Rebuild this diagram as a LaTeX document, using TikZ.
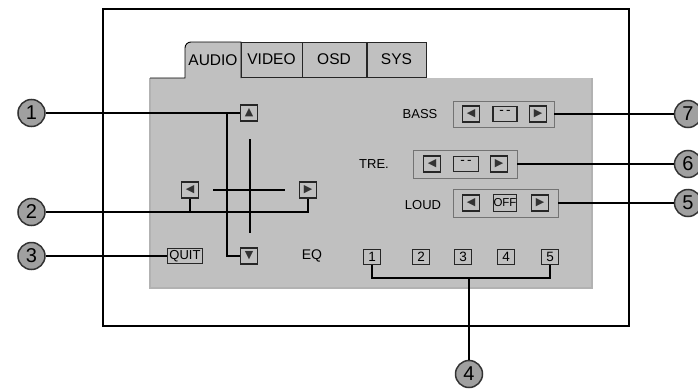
\documentclass[tikz,border=0pt]{standalone}
\usepackage{fontspec}
\setmainfont{Liberation Sans}
\newfontfamily\symfont{DejaVu Sans}
\usetikzlibrary{positioning}

\definecolor{panel}{RGB}{192,192,192}
\definecolor{badge}{RGB}{160,160,160}

\tikzset{
  btn/.style={draw=black!85, line width=1.2pt, fill=panel, inner sep=0pt,
    minimum width=17pt, minimum height=16pt, font=\fontsize{13.5}{13.5}\selectfont},
  arr/.style={btn, text=black!80, font=\symfont\fontsize{11}{11}\selectfont},
  grp/.style={draw=black!55, line width=0.9pt, inner sep=0pt},
  tabbox/.style={draw=black!85, line width=0.9pt, fill=panel, inner sep=0pt,
    minimum height=35pt, font=\fontsize{15.5}{15.5}\selectfont},
  lbl/.style={inner sep=0pt, font=\fontsize{13}{13}\selectfont},
  callout/.style={circle, draw=black!80, line width=1.5pt, fill=badge,
    minimum size=27pt, inner sep=0pt, font=\fontsize{20}{20}\selectfont},
  wire/.style={line width=1.1pt}
}

\begin{document}
\begin{tikzpicture}[x=1pt, y=-1pt]
\useasboundingbox (0,0) rectangle (698,388);

% screen frame and panel
\draw[line width=1.1pt] (103,9) rectangle (629,326);
\fill[panel] (150,78) rectangle (592,288);
\draw[gray!60, line width=1.2pt] (150,78) -- (150,288) -- (592,288) -- (592,78);
\draw[line width=0.9pt, fill=panel] (150,78) -- (185,78)
  [rounded corners=6pt] -- (185,42) [sharp corners] -- (241,42) -- (241,78);

% tabs
\draw
(213,60) node[inner sep=0pt, font=\fontsize{15.5}{15.5}\selectfont](audio){AUDIO}
(271.5,59.5) node[tabbox, minimum width=61pt](video){VIDEO}
(334,59.5) node[tabbox, minimum width=64pt](osd){OSD}
(396.5,59.5) node[tabbox, minimum width=59pt](sys){SYS};

% cursor buttons
\draw
(249,113) node[arr](up){▲}
(249,256) node[arr](down){▼}
(190,190) node[arr](left){◀}
(308,190) node[arr](right){▶}
(185,256) node[btn, minimum width=35pt, minimum height=15pt, font=\fontsize{13}{13}\selectfont](quit){QUIT}
(312,256) node[inner sep=0pt, font=\fontsize{14}{14}\selectfont](eq){EQ};

\draw[wire] (250,139) -- (250,233);
\draw[wire] (213,190) -- (285,190);

% EQ presets
\draw
(372,257) node[btn, minimum height=15pt](e1){1}
(421,257) node[btn, minimum height=15pt](e2){2}
(463,257) node[btn, minimum height=15pt](e3){3}
(506,257) node[btn, minimum height=15pt](e4){4}
(550,257) node[btn, minimum height=15pt](e5){5};

% tone settings
\draw
(420,114) node[lbl](bass){BASS}
(503.5,114) node[grp, minimum width=101pt, minimum height=26pt](bassgrp){}
(471,114) node[arr](bassl){◀}
(505,114) node[btn, minimum width=24pt, minimum height=15pt](bassv){\raisebox{3pt}{-\,-}}
(538,114) node[arr](bassr){▶}
(374,164) node[lbl](tre){TRE.}
(465,164) node[grp, minimum width=104pt, minimum height=28pt](tregrp){}
(432,164) node[arr](trel){◀}
(466,164) node[btn, minimum width=25pt, minimum height=15pt](trev){\raisebox{3pt}{-\,-}}
(499,164) node[arr](trer){▶}
(423,205) node[lbl](loud){LOUD}
(505.5,203) node[grp, minimum width=105pt, minimum height=28pt](loudgrp){}
(471,203) node[arr](loudl){◀}
(505,203) node[btn, minimum width=23pt, minimum height=17pt, font=\fontsize{11.5}{11.5}\selectfont](loudv){OFF}
(540,203) node[arr](loudr){▶};

% callouts
\draw
(31.5,113) node[callout](c1){1}
(31.5,212) node[callout](c2){2}
(31.5,256) node[callout](c3){3}
(469,374) node[callout](c4){4}
(688,203) node[callout](c5){5}
(688,164) node[callout](c6){6}
(688,114) node[callout](c7){7};

\coordinate (j1) at (227,113);
\coordinate (eqbar) at (469,278);

\draw[wire] (c1) -- (up.west);
\draw[wire] (j1) |- (down.west);
\draw[wire] (c2) -| (right.south);
\draw[wire] (left.south) -- (left.south |- c2);
\draw[wire] (c3) -- (quit.west);
\draw[wire] (e1.south) |- (eqbar) -| (e5.south);
\draw[wire] (eqbar) -- (c4);
\draw[wire] (bassgrp.east) -- (c7);
\draw[wire] (tregrp.east) -- (c6);
\draw[wire] (loudgrp.east) -- (c5);

\end{tikzpicture}
\end{document}
